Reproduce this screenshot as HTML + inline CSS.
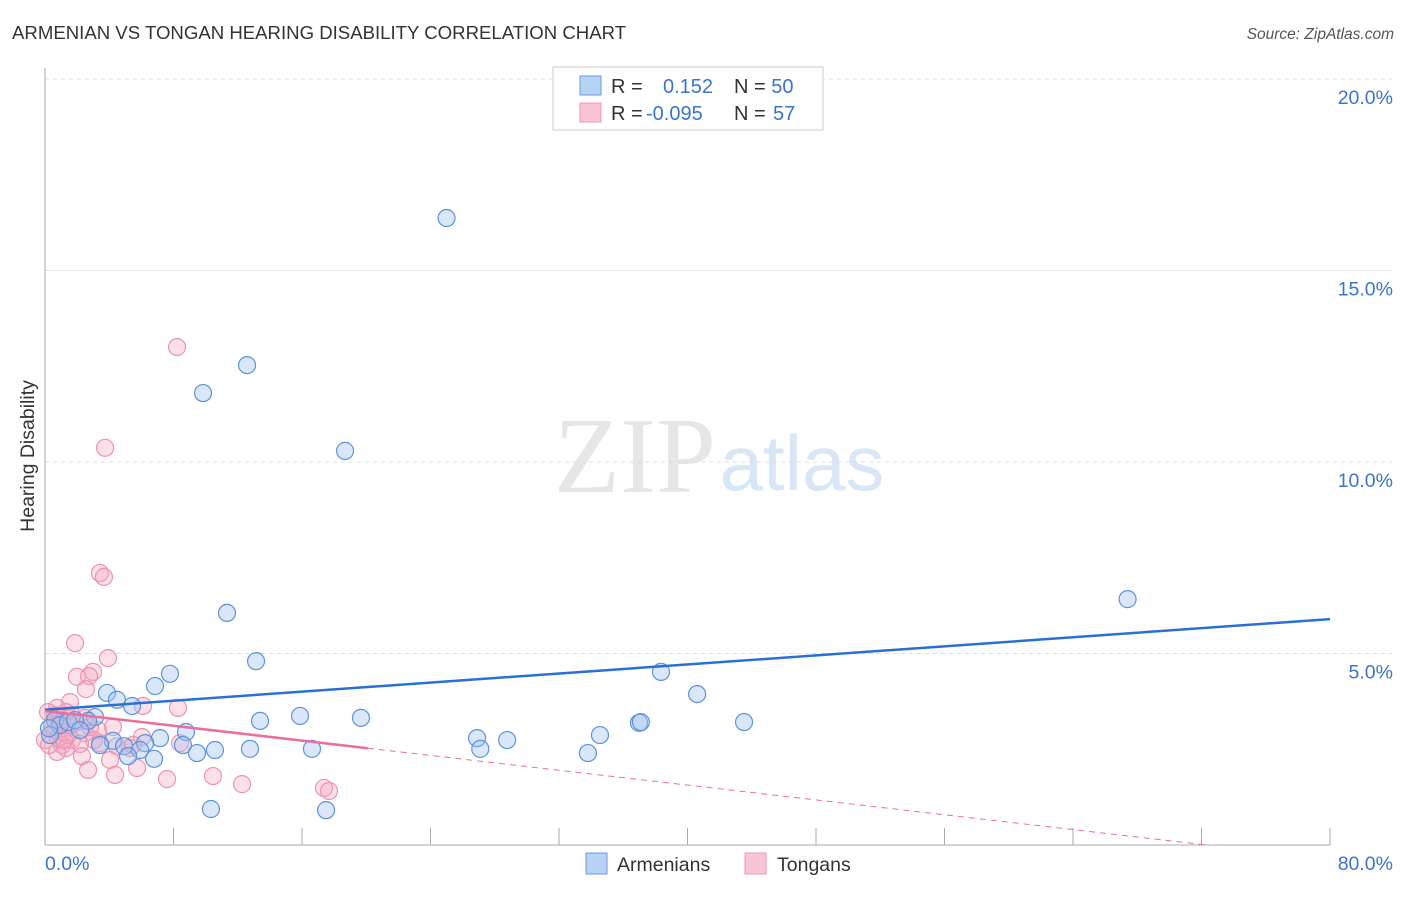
<!DOCTYPE html>
<html><head><meta charset="utf-8"><style>
body{margin:0;background:#fff;font-family:"Liberation Sans",sans-serif}
</style></head><body>
<svg width="1406" height="892" viewBox="0 0 1406 892" xmlns="http://www.w3.org/2000/svg">
<text x="12" y="39" font-size="18.6" fill="#333">ARMENIAN VS TONGAN HEARING DISABILITY CORRELATION CHART</text>
<text x="1394" y="39" font-size="15.5" fill="#555" font-style="italic" text-anchor="end">Source: ZipAtlas.com</text>
<text x="635" y="492" font-size="108" fill="#e6e6e6" font-family="Liberation Serif" text-anchor="middle">ZIP</text>
<text x="802" y="490" font-size="78" fill="#d8e6f6" text-anchor="middle">atlas</text>
<g id="grid"></g>
<g id="axes"></g>
<text x="34" y="456" font-size="19.5" fill="#333" text-anchor="middle" transform="rotate(-90 34 456)">Hearing Disability</text>
<g id="marks"></g>
<g id="trends"></g>
<g>
<rect x="553" y="67" width="270" height="63" fill="#fff" stroke="#ccc"/>
<rect x="580" y="76" width="21" height="19" fill="#b8d2f4" stroke="#6a9ae0"/>
<rect x="580" y="103" width="21" height="19" fill="#f9c4d4" stroke="#ec98b3"/>
<text x="611" y="93" font-size="20" fill="#333">R = <tspan fill="#3a74d0" x="663">0.152</tspan><tspan fill="#333" x="734">N = </tspan><tspan fill="#3a74d0">50</tspan></text>
<text x="611" y="120" font-size="20" fill="#333">R = <tspan fill="#3a74d0" x="646">-0.095</tspan><tspan fill="#333" x="734">N = </tspan><tspan fill="#3a74d0" x="773">57</tspan></text>
</g>
<g>
<rect x="586" y="853" width="21" height="21" fill="#b8d2f4" stroke="#6a9ae0"/>
<text x="617" y="871" font-size="19.5" fill="#333">Armenians</text>
<rect x="745" y="853" width="21" height="21" fill="#f9c4d4" stroke="#ec98b3"/>
<text x="777" y="871" font-size="19.5" fill="#333">Tongans</text>
</g>
</svg>
<script>
const blueX=[25.0,12.58,9.84,18.68,67.4,11.33,13.14,7.78,6.85,38.35,40.6,3.86,4.48,5.42,3.11,2.68,13.39,15.88,19.67,36.98,37.1,43.52,8.78,7.16,26.9,28.77,34.55,4.23,6.23,8.59,3.42,4.92,5.92,9.46,10.58,12.76,16.62,27.1,33.8,5.17,6.79,10.33,17.5,0.62,0.93,1.43,0.31,1.87,0.25,2.18];
const blueY=[16.37,12.53,11.8,10.29,6.42,6.06,4.8,4.47,4.15,4.52,3.94,3.97,3.79,3.63,3.34,3.24,3.24,3.37,3.32,3.19,3.21,3.21,2.95,2.79,2.79,2.74,2.87,2.72,2.66,2.61,2.61,2.58,2.48,2.4,2.48,2.51,2.51,2.51,2.4,2.32,2.25,0.94,0.91,3.26,3.13,3.21,2.87,3.26,3.05,3.0];
const pinkX=[8.22,3.74,3.42,3.67,1.87,3.92,2.99,1.99,2.74,2.55,1.56,8.28,6.1,0.75,0.62,1.68,4.23,3.3,1.12,0.44,2.49,1.68,6.04,1.06,2.18,1.31,3.42,4.48,5.29,0.75,2.3,4.05,5.48,2.68,4.36,5.73,7.6,10.46,12.27,17.37,17.68,8.41,0.19,0.93,1.31,1.93,0.0,0.62,1.06,1.56,2.8,0.25,0.81,3.05,1.43,2.49,1.18];
const pinkY=[13.0,10.37,7.1,7.0,5.27,4.88,4.52,4.39,4.41,4.07,3.73,3.58,3.63,3.58,3.39,3.39,3.08,3.0,2.95,3.13,2.92,2.74,2.82,2.61,2.64,2.53,2.66,2.58,2.53,2.43,2.32,2.22,2.61,1.96,1.83,2.01,1.72,1.8,1.59,1.49,1.41,2.66,3.47,3.32,3.47,3.21,2.74,3.0,3.21,3.13,3.08,2.61,2.79,2.74,2.87,3.32,2.74];
const blueTrend=[3.53,0.0296];   // intercept, slope
const pinkTrend=[3.5,-0.0484];
const pinkSolidEnd=20.1;
const yTicks=[5,10,15,20];
const yTickLabels=["5.0%","10.0%","15.0%","20.0%"];
const xTicks=[0,8,16,24,32,40,48,56,64,72,80];

const NS="http://www.w3.org/2000/svg";
const xs=v=>45+v*(1285/80);
const ys=v=>845-v*38.3;
function mk(tag,attrs,parent){const e=document.createElementNS(NS,tag);for(const k in attrs)e.setAttribute(k,attrs[k]);parent.appendChild(e);return e;}
const grid=document.getElementById('grid'),axes=document.getElementById('axes'),marks=document.getElementById('marks'),trends=document.getElementById('trends');
yTicks.forEach((t,i)=>{
  const l=mk('line',{x1:45,x2:1392,y1:ys(t),y2:ys(t),stroke:'#ddd','stroke-dasharray':'4,4'},grid);
  
  
  const tx=mk('text',{x:1393,y:ys(t)+25,'font-size':19.5,fill:'#3a74d0','text-anchor':'end'},grid);
  tx.textContent=yTickLabels[i];
  
  
});
const al=mk('line',{x1:45,x2:45,y1:68,y2:845,stroke:'#aaa'},axes);


const bl=mk('line',{x1:45,x2:1330,y1:845,y2:845,stroke:'#aaa'},axes);


xTicks.forEach(t=>{
  const l=mk('line',{x1:xs(t),x2:xs(t),y1:828,y2:845,stroke:'#aaa'},axes);
  
  
});
const x0=mk('text',{x:45,y:870,'font-size':19.5,fill:'#3a74d0'},axes);x0.textContent='0.0%';


const x1=mk('text',{x:1393,y:870,'font-size':19.5,fill:'#3a74d0','text-anchor':'end'},axes);x1.textContent='80.0%';


pinkX.forEach((v,i)=>{
  const c=mk('circle',{cx:xs(v),cy:ys(pinkY[i]),r:8.5,fill:'rgba(245,165,192,0.35)',stroke:'#eb94b0','stroke-width':1.2},marks);
  
  
});
blueX.forEach((v,i)=>{
  const c=mk('circle',{cx:xs(v),cy:ys(blueY[i]),r:8.5,fill:'rgba(160,195,240,0.4)',stroke:'#5d92dc','stroke-width':1.2},marks);
  
  
});
const bt=mk('line',{x1:xs(0),y1:ys(blueTrend[0]),x2:xs(80),y2:ys(blueTrend[0]+80*blueTrend[1]),stroke:'#2a6fd4','stroke-width':2.5},trends);


const pe=-pinkTrend[0]/pinkTrend[1];
const pd=mk('line',{x1:xs(pinkSolidEnd),y1:ys(pinkTrend[0]+pinkSolidEnd*pinkTrend[1]),x2:xs(Math.min(pe,80)),y2:ys(Math.max(0,pinkTrend[0]+Math.min(pe,80)*pinkTrend[1])),stroke:'#e8709a','stroke-width':1,'stroke-dasharray':'6,5'},trends);


const pt=mk('line',{x1:xs(0),y1:ys(pinkTrend[0]),x2:xs(pinkSolidEnd),y2:ys(pinkTrend[0]+pinkSolidEnd*pinkTrend[1]),stroke:'#e8709a','stroke-width':2.5},trends);


</script>
</body></html>
